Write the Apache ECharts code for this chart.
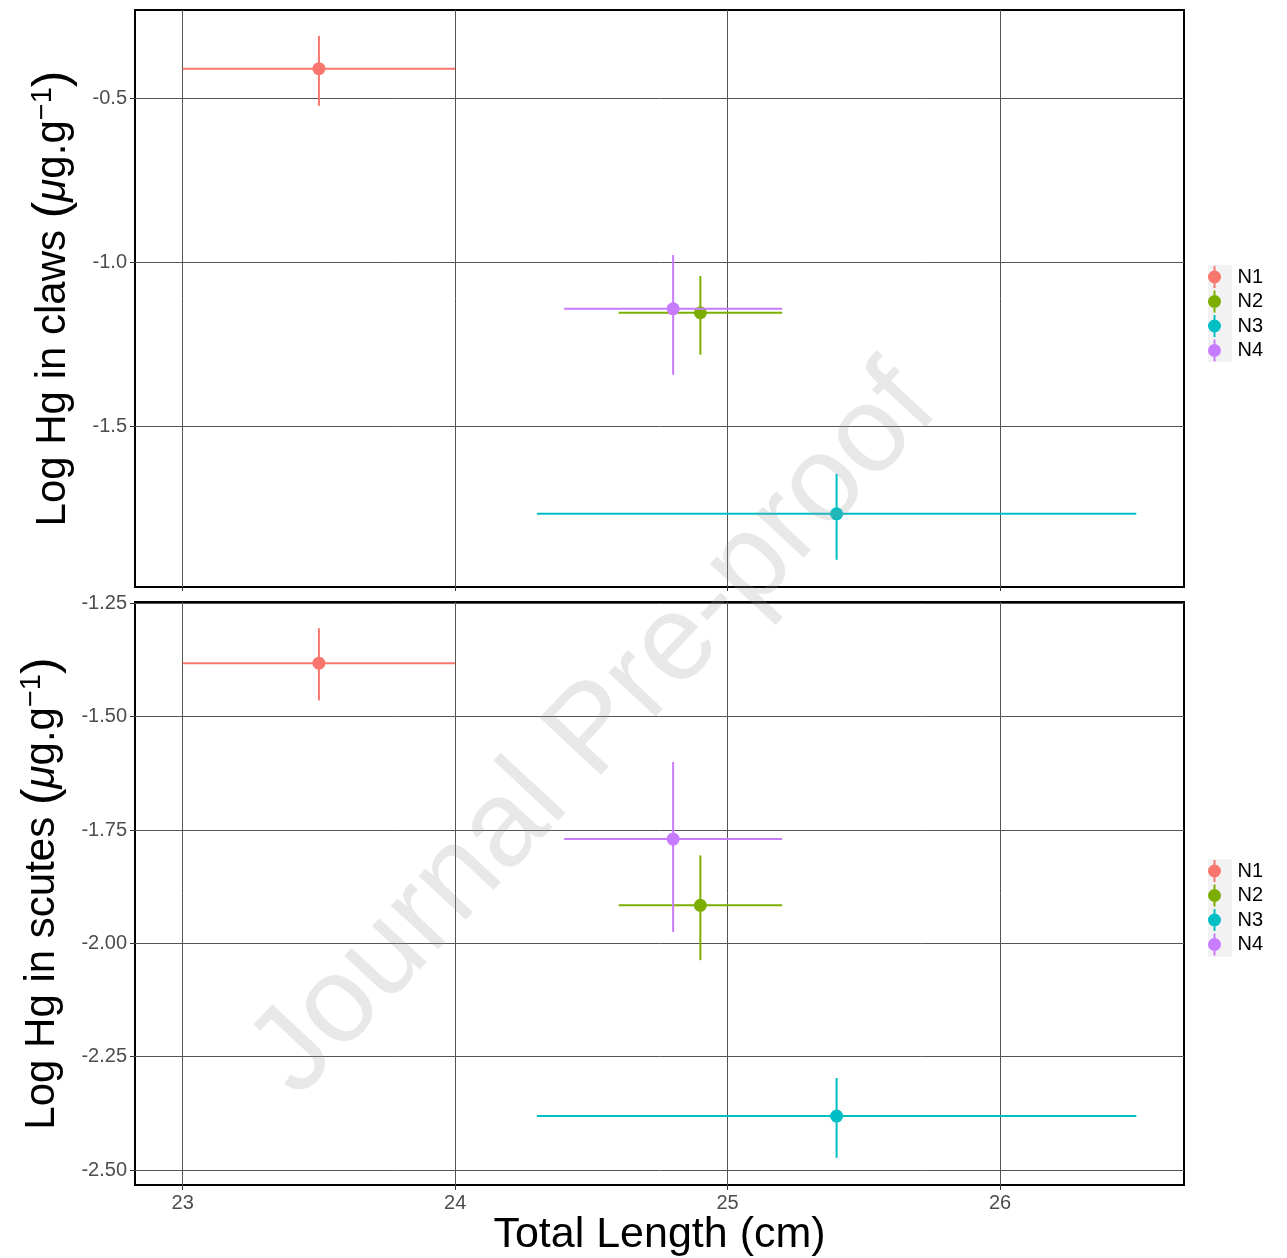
<!DOCTYPE html>
<html>
<head>
<meta charset="utf-8">
<script src="https://cdn.jsdelivr.net/npm/echarts@6/dist/echarts.min.js"></script>
<style>
html,body{margin:0;padding:0;background:#fff;}
#chart{width:1287px;height:1258px;}
</style>
</head>
<body>
<div id="chart"></div>
<script>
// ---- data ----
const groups = ['N1', 'N2', 'N3', 'N4'];
const groupColors = ['#F8766D', '#7CAE00', '#00BFC4', '#C77CFF'];
const lengthMean = [23.5, 24.9, 25.4, 24.8];
const lengthLow  = [23.0, 24.6, 24.3, 24.4];
const lengthHigh = [24.0, 25.2, 26.5, 25.2];

const clawMean = [-0.409, -1.153, -1.766, -1.141];
const clawLow  = [-0.522, -1.281, -1.906, -1.342];
const clawHigh = [-0.309, -1.041, -1.644, -0.977];

const scuteMean = [-1.382, -1.916, -2.381, -1.770];
const scuteLow  = [-1.464, -2.037, -2.473, -1.975];
const scuteHigh = [-1.305, -1.806, -2.297, -1.600];

const xTicks = [23, 24, 25, 26];
const clawTicks = [-1.5, -1.0, -0.5];
const scuteTicks = [-2.5, -2.25, -2.0, -1.75, -1.5, -1.25];

const FONT = '"Liberation Sans", Arial, Helvetica, sans-serif';

function renderItem(params, api) {
  const c = api.coord([api.value(0), api.value(1)]);
  const xl = api.coord([api.value(2), api.value(1)]);
  const xh = api.coord([api.value(3), api.value(1)]);
  const yl = api.coord([api.value(0), api.value(4)]);
  const yh = api.coord([api.value(0), api.value(5)]);
  const color = api.visual('color');
  return {
    type: 'group',
    children: [
      {type: 'line', shape: {x1: xl[0], y1: c[1], x2: xh[0], y2: c[1]}, style: {stroke: color, lineWidth: 2}},
      {type: 'line', shape: {x1: c[0], y1: yl[1], x2: c[0], y2: yh[1]}, style: {stroke: color, lineWidth: 2}},
      {type: 'circle', shape: {cx: c[0], cy: c[1], r: 6.5}, style: {fill: color}}
    ]
  };
}

const series = [];
groups.forEach((g, i) => {
  series.push({
    type: 'custom', name: g, xAxisIndex: 0, yAxisIndex: 0,
    itemStyle: {color: groupColors[i]},
    renderItem: renderItem,
    encode: {x: 0, y: 1},
    data: [[lengthMean[i], clawMean[i], lengthLow[i], lengthHigh[i], clawLow[i], clawHigh[i]]]
  });
});
groups.forEach((g, i) => {
  series.push({
    type: 'custom', name: g, xAxisIndex: 1, yAxisIndex: 1,
    itemStyle: {color: groupColors[i]},
    renderItem: renderItem,
    encode: {x: 0, y: 1},
    data: [[lengthMean[i], scuteMean[i], lengthLow[i], lengthHigh[i], scuteLow[i], scuteHigh[i]]]
  });
});

const splitLine = {show: true, lineStyle: {color: '#555', width: 1}};
const tickStyle = {show: true, length: 5, lineStyle: {color: '#333', width: 1}};
const labelStyle = {color: '#4d4d4d', fontSize: 20, fontFamily: FONT};

function yName(word) {
  return '{t|Log Hg in ' + word + ' }{p|(}{mu|\u03bc}{t|g.g}{sup|\u22121}{p|)}';
}
const nameRich = {
  t: {fontSize: 42, fontFamily: FONT, color: '#000'},
  p: {fontSize: 50, fontFamily: FONT, color: '#000'},
  mu: {fontSize: 42, fontFamily: FONT, fontStyle: 'italic', color: '#000'},
  sup: {fontSize: 29, fontFamily: FONT, color: '#000', verticalAlign: 'top'}
};

const legendIcon = 'path://M5.5,0H7.5V22H5.5Z M0,11A6.5,6.5 0 1 1 13,11A6.5,6.5 0 1 1 0,11Z';
function makeLegend(top) {
  return {
    orient: 'vertical', left: 1208, top: top, padding: 0,
    itemWidth: 24, itemHeight: 22, itemGap: 2.5,
    icon: legendIcon,
    data: groups,
    selectedMode: false,
    formatter: name => '{g|}{a|' + name + '}',
    textStyle: {fontSize: 20, fontFamily: FONT, color: '#000',
      rich: {g: {width: 6, height: 20}, a: {fontSize: 20, fontFamily: FONT, color: '#000'}}}
  };
}

const option = {
  animation: false,
  backgroundColor: '#fff',
  grid: [
    {left: 135, top: 10, width: 1049, height: 577, show: true, borderColor: '#000', borderWidth: 2, z: 0},
    {left: 135, top: 602, width: 1049, height: 583, show: true, borderColor: '#000', borderWidth: 2, z: 0}
  ],
  xAxis: [
    {
      type: 'value', gridIndex: 0, min: 22.825, max: 26.675,
      axisLine: {show: false},
      axisTick: {show: true, length: 4, lineStyle: {color: '#333'}, customValues: xTicks},
      axisLabel: {show: false, customValues: xTicks},
      splitLine: splitLine
    },
    {
      type: 'value', gridIndex: 1, min: 22.825, max: 26.675,
      axisLine: {show: false},
      axisTick: Object.assign({}, tickStyle, {customValues: xTicks}),
      axisLabel: Object.assign({}, labelStyle, {margin: 8, customValues: xTicks, formatter: v => String(v)}),
      splitLine: splitLine,
      name: 'Total Length (cm)', nameLocation: 'middle', nameGap: 26,
      nameTextStyle: {fontSize: 43, fontFamily: FONT, color: '#000'}
    }
  ],
  yAxis: [
    {
      type: 'value', gridIndex: 0, min: -1.989, max: -0.230,
      axisLine: {show: false},
      axisTick: Object.assign({}, tickStyle, {customValues: clawTicks}),
      axisLabel: Object.assign({}, labelStyle, {margin: 8, customValues: clawTicks, formatter: v => v.toFixed(1)}),
      splitLine: splitLine,
      name: yName('claws'), nameLocation: 'middle', nameRotate: 90, nameGap: 57,
      nameTextStyle: {fontSize: 42, fontFamily: FONT, color: '#000', rich: nameRich}
    },
    {
      type: 'value', gridIndex: 1, min: -2.533, max: -1.247,
      axisLine: {show: false},
      axisTick: Object.assign({}, tickStyle, {customValues: scuteTicks}),
      axisLabel: Object.assign({}, labelStyle, {margin: 8, customValues: scuteTicks, formatter: v => v.toFixed(2)}),
      splitLine: splitLine,
      name: yName('scutes'), nameLocation: 'middle', nameRotate: 90, nameGap: 68,
      nameTextStyle: {fontSize: 42, fontFamily: FONT, color: '#000', rich: nameRich}
    }
  ],
  legend: [makeLegend(266), makeLegend(860)],
  graphic: [
    {type: 'rect', left: 1208, top: 265, shape: {width: 24, height: 97}, style: {fill: '#f2f2f2'}, z: -1},
    {type: 'rect', left: 1208, top: 859, shape: {width: 24, height: 98}, style: {fill: '#f2f2f2'}, z: -1},
    {
      type: 'text', x: 595, y: 732, rotation: 47 * Math.PI / 180, z: 100, silent: true,
      style: {text: 'Journal Pre-proof', fontSize: 122, fontFamily: FONT, fill: 'rgba(150,150,150,0.22)',
              textAlign: 'center', textVerticalAlign: 'middle'}
    }
  ],
  series: series
};

const chart = echarts.init(document.getElementById('chart'));
chart.setOption(option);
</script>
</body>
</html>
